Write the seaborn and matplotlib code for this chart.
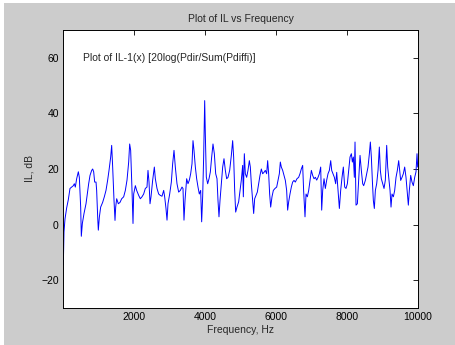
import matplotlib
matplotlib.use("Agg")
import matplotlib.pyplot as plt
import seaborn as sns
import pandas as pd
from matplotlib.patches import Rectangle

# values (Hz, dB)
freq = [9, 28, 56, 103, 150, 197, 244, 291, 319, 347, 385, 432, 460, 498, 516, 545,
        592, 648, 685, 723, 761, 808, 836, 864, 892, 930, 948, 977, 995, 1024, 1061,
        1117, 1164, 1211, 1258, 1296, 1343, 1371, 1399, 1437, 1465, 1484, 1512, 1559,
        1606, 1653,
        1709, 1756, 1803, 1850, 1878, 1906, 1944, 1972, 1991, 2038, 2075, 2132, 2178,
        2225, 2272, 2319, 2366, 2394, 2423, 2451, 2479, 2526, 2573, 2601, 2648, 2695,
        2742, 2789, 2836, 2864, 2901, 2930, 2958, 3005, 3052, 3089, 3127, 3164, 3211,
        3258, 3305, 3352,
        3380, 3408, 3437, 3483, 3521, 3559, 3596, 3634, 3662, 3690, 3728, 3765, 3803,
        3840, 3878, 3906, 3934, 3962, 3991, 4009, 4037, 4075, 4113, 4150, 4188, 4225,
        4263, 4301, 4338, 4366, 4394, 4423, 4460, 4498, 4535, 4573, 4610, 4648, 4695,
        4742, 4779, 4807, 4836, 4864, 4901, 4948, 4986, 5023, 5061,
        5080, 5108, 5136, 5173, 5211, 5249, 5277, 5305, 5342, 5371, 5399, 5436, 5474,
        5511, 5549, 5587, 5624, 5662, 5699, 5737, 5765, 5793, 5821, 5850, 5887, 5925,
        5972, 6019, 6056, 6094, 6122, 6150, 6188, 6225, 6263, 6300, 6328, 6357, 6394,
        6432, 6469, 6507, 6544, 6591, 6638, 6676, 6713, 6751,
        6779, 6817, 6846, 6883, 6921, 6958, 6996, 7033, 7071, 7109, 7146, 7184, 7221,
        7259, 7287, 7315, 7353, 7390, 7428, 7465, 7503, 7541, 7569, 7606, 7644, 7681,
        7710, 7747, 7785, 7822, 7860, 7897, 7935, 7972, 8010, 8048, 8085, 8123, 8151,
        8179, 8207, 8226, 8254, 8292, 8329, 8367, 8404, 8442,
        8470, 8517, 8554, 8592, 8630, 8658, 8686, 8714, 8742, 8770, 8799, 8836, 8874,
        8911, 8939, 8967, 9005, 9043, 9080, 9118, 9146, 9174, 9212, 9240, 9268, 9306,
        9343, 9381, 9418, 9456, 9484, 9512, 9550, 9587, 9625, 9662, 9700, 9728, 9756,
        9794, 9831, 9869, 9907, 9944, 9972, 9991]
il = [-14.5, -2.6, 2, 6, 9, 13, 13.5, 14, 14.7, 13.5, 16.5, 19, 17, 6.3, -4.2, 0.4,
      4, 7.5, 11, 14.7, 17.7, 19.5, 20, 19, 15.3, 15.3, 12.3, 2.7, -2, 2.7, 6.3,
      8, 10, 12.3, 16, 19.5, 24.3, 28.5, 20.7, 8.7, 1.5, 6.3, 9.3, 7.5,
      8, 9.3,
      10, 12.3, 16, 22.5, 29, 26.7, 12.3, 0.4, 11, 14, 12.3, 10.5, 9.3,
      10, 11, 13, 13.5, 19.5, 15.3, 7.5, 10, 16, 20.7, 16.5, 13, 11,
      10.5, 10.2, 12.3, 10, 5.8, 1.6, 7.5, 11, 15.3, 21.9, 26.7, 20.7, 14.7,
      11.7, 12.3, 13.5,
      13, 1.6, 8.7, 16.5, 14.7, 16, 18.3, 21.9, 30.2, 26.7, 20.7, 16.5, 13.5,
      11, 12.3, 1, 10, 24.3, 44.6, 32.6, 17.1, 14.7, 16.5, 18.9, 24.3, 29,
      25.5, 18.3, 16.5, 8.7, 2.8, 8.7, 14.7, 20.7, 23.7, 19.5, 16.5, 17, 19.5,
      24.9, 30.2, 24.3, 12.3, 4.5, 6.3, 8.2, 12.3, 16, 21.3,
      10, 25.5, 18.3, 17, 19.5, 23, 20.7, 14.7, 8.7, 4, 9.3, 10.5, 11.7,
      14.7, 17.7, 20, 18.3, 18.8, 19.5, 18.3, 23, 18.3, 11, 6.3, 10, 12.3,
      13, 13.5, 15.9, 18.3, 22.5, 20.7, 19.5, 17.7, 15.9, 12.3, 5.2, 8.2, 11,
      13.5, 15.3, 15.9, 15.3, 16.5, 17, 18.3, 20, 21.3,
      12, 2.8, 11, 10, 12.3, 16, 19.5, 17.7, 16.5, 17, 16, 17, 18.3,
      20.7, 5.2, 12.3, 16.5, 13, 16, 18.3, 19.5, 23, 19.5, 18.3, 17, 14.7,
      18.8, 12.3, 5.8, 12.3, 17, 20.7, 13.5, 13, 14.7, 19.5, 24.3, 25.5, 22.5,
      24.3, 17, 29.7, 7, 7.5, 16, 24.9, 19.5, 14.7,
      14, 15.9, 18.3, 20.7, 25.5, 29.7, 24.3, 15.9, 8.7, 5.8, 12.3, 14.7, 19.5,
      27.9, 19.5, 16.5, 14.7, 13, 16, 28.5, 20.7, 17, 12.3, 6.3, 11, 10,
      12.3, 17, 19.5, 23, 19.5, 15.9, 17, 18.3, 20.7, 17, 11, 7, 12.3,
      17.7, 15.3, 14, 17, 19, 25.5, 20.7]

xticks = [2000, 4000, 6000, 8000, 10000]
yticks = [-20, 0, 20, 40, 60]

sns.set_style("white")
plt.rcParams['font.family'] = ['Liberation Sans', 'DejaVu Sans']
plt.rcParams['font.size'] = 7.5

df = pd.DataFrame({"freq": freq, "il": il})

fig = plt.figure(figsize=(4.56, 3.45), dpi=100, facecolor="white")
fig.patches.append(Rectangle((4 / 456, 0), 1, 1 - 3 / 345, transform=fig.transFigure,
                             facecolor="#cccccc", edgecolor="none", zorder=-10))
ax = fig.add_axes([63 / 456, 37 / 345, 355 / 456, 278 / 345])
ax.set_facecolor("white")

sns.lineplot(data=df, x="freq", y="il", ax=ax, color="#0000ff", linewidth=0.7,
             sort=False, estimator=None)

ax.set_xlim(0, 10000)
ax.set_ylim(-30, 70)
ax.set_xticks(xticks)
ax.set_yticks(yticks)
ax.tick_params(direction="in", length=3.5, width=0.6, top=True, right=True,
               labelsize=7.5, pad=3, colors="black")
for s in ax.spines.values():
    s.set_color("black")
    s.set_linewidth(0.7)

ax.set_title("Plot of IL vs Frequency", fontsize=7.5, pad=6)
ax.set_xlabel("Frequency, Hz", fontsize=7.5, labelpad=2)
ax.set_ylabel("IL, dB", fontsize=7.5, labelpad=5)
ax.text(550, 60, "Plot of IL-1(x) [20log(Pdir/Sum(Pdiffi)]", fontsize=7.5,
        va="center", ha="left")

fig.savefig("out.png", dpi=100, facecolor=fig.get_facecolor())
